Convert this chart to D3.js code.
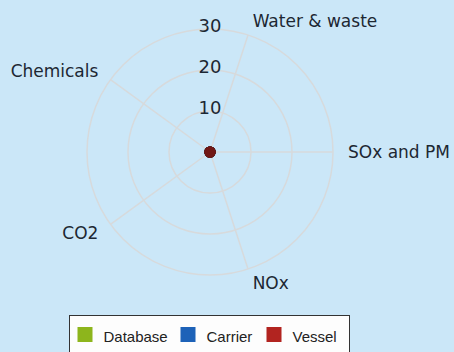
<!DOCTYPE html>
<html>
<head>
<meta charset="utf-8">
<script src="https://cdn.jsdelivr.net/npm/d3@7"></script>
<style>
  html, body { margin: 0; padding: 0; background: #cbe7f8; }
  svg { display: block; }
</style>
</head>
<body>
<div id="chart"></div>
<script>
// Radar chart: emission categories per source
const categories = ["Water & waste", "SOx and PM", "NOx", "CO2", "Chemicals"];
const seriesNames = ["Database", "Carrier", "Vessel"];
const seriesColors = ["#8db51c", "#1d62b8", "#b22420"];
const databaseValues = [0, 0, 0, 0, 0];
const carrierValues = [0, 0, 0, 0, 0];
const vesselValues = [0, 0, 0, 0, 0];
const gridTicks = [10, 20, 30];
const tickLabels = ["10", "20", "30"];

const series = [databaseValues, carrierValues, vesselValues];

const width = 454, height = 352;
const cx = 210, cy = 152, outerR = 123;

const svg = d3.select("#chart").append("svg")
  .attr("width", width).attr("height", height);

svg.append("rect").attr("width", width).attr("height", height).attr("fill", "#cbe7f8");

const r = d3.scaleLinear().domain([0, 30]).range([0, outerR]);
// first axis points up and slightly right; the rest follow clockwise
const angle = d3.scaleLinear().domain([0, categories.length]).range([-0.4 * Math.PI, 1.6 * Math.PI]);

const g = svg.append("g").attr("transform", `translate(${cx},${cy})`);

// concentric grid circles
g.selectAll("circle.grid").data(gridTicks).join("circle")
  .attr("class", "grid")
  .attr("r", d => r(d))
  .attr("fill", "none")
  .attr("stroke", "#d7dadc")
  .attr("stroke-width", 1.5);

// spokes
g.selectAll("line.spoke").data(categories).join("line")
  .attr("class", "spoke")
  .attr("x1", 0).attr("y1", 0)
  .attr("x2", (d, i) => r(30) * Math.cos(angle(i)))
  .attr("y2", (d, i) => r(30) * Math.sin(angle(i)))
  .attr("stroke", "#d7dadc")
  .attr("stroke-width", 1.5);

// radial tick labels
g.selectAll("text.tick").data(gridTicks).join("text")
  .attr("class", "tick")
  .attr("x", 0)
  .attr("y", d => -r(d) - 4)
  .attr("text-anchor", "middle")
  .attr("dominant-baseline", "central")
  .attr("font-family", "DejaVu Sans, sans-serif")
  .attr("font-size", 18)
  .attr("fill", "#1d2733")
  .text((d, i) => tickLabels[i]);

// category labels
g.selectAll("text.cat").data(categories).join("text")
  .attr("class", "cat")
  .attr("x", (d, i) => (r(30) + 15) * Math.cos(angle(i)))
  .attr("y", (d, i) => (r(30) + 15) * Math.sin(angle(i)))
  .attr("text-anchor", (d, i) => {
    const c = Math.cos(angle(i));
    return c > 0.1 ? "start" : (c < -0.1 ? "end" : "middle");
  })
  .attr("dominant-baseline", "central")
  .attr("font-family", "DejaVu Sans, sans-serif")
  .attr("font-size", 17)
  .attr("fill", "#1d2733")
  .text(d => d);

// series polygons and markers
const line = d3.lineRadial()
  .angle((d, i) => angle(i) + Math.PI / 2)
  .radius(d => r(d))
  .curve(d3.curveLinearClosed);

series.forEach((vals, si) => {
  g.append("path")
    .datum(vals)
    .attr("d", line)
    .attr("fill", "none")
    .attr("stroke", seriesColors[si])
    .attr("stroke-width", 2);
  g.selectAll(`circle.pt${si}`).data(vals).join("circle")
    .attr("class", `pt${si}`)
    .attr("cx", (d, i) => r(d) * Math.cos(angle(i)))
    .attr("cy", (d, i) => r(d) * Math.sin(angle(i)))
    .attr("r", 5.5)
    .attr("fill", d3.color(seriesColors[si]).darker(1.3));
});

// legend
const legend = svg.append("g").attr("transform", "translate(69.5,315.5)");
legend.append("rect")
  .attr("width", 280).attr("height", 45)
  .attr("fill", "#fdfdfd")
  .attr("stroke", "#333")
  .attr("stroke-width", 1);

const legendX = [8, 111, 197];
const items = legend.selectAll("g.item").data(seriesNames).join("g")
  .attr("class", "item")
  .attr("transform", (d, i) => `translate(${legendX[i]},11.5)`);
items.append("rect")
  .attr("width", 15).attr("height", 15)
  .attr("fill", (d, i) => seriesColors[i]);
items.append("text")
  .attr("x", 26).attr("y", 15)
  .attr("font-family", "Liberation Sans, Arial, sans-serif")
  .attr("font-size", 15)
  .attr("fill", "#222")
  .text(d => d);
</script>
</body>
</html>
